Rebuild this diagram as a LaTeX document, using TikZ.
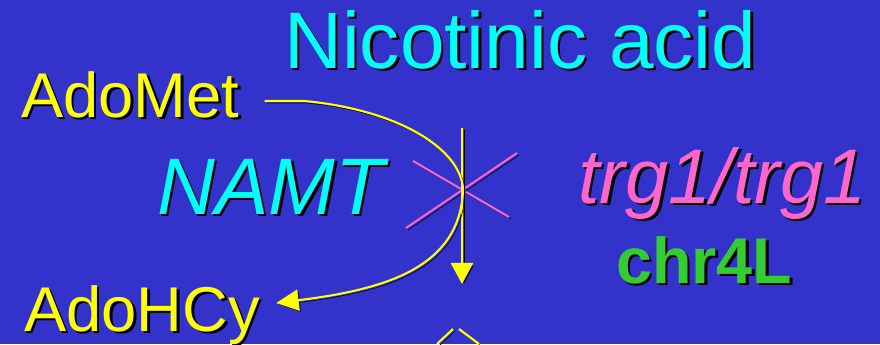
\documentclass[tikz,border=0pt]{standalone}
\usepackage{fontspec}
\setmainfont{Liberation Sans}
\usetikzlibrary{arrows.meta, calc}

\definecolor{slideblue}{HTML}{3333CC}
\definecolor{nameyellow}{HTML}{FFFF00}
\definecolor{namecyan}{HTML}{00FFFF}
\definecolor{genepink}{HTML}{FF66CC}
\definecolor{chrgreen}{HTML}{33CC33}

\begin{document}
\begin{tikzpicture}[x=0.025cm, y=-0.025cm,
  lbl/.style={anchor=base west, inner sep=0pt},
  sh/.style={text=black},
  big/.style={lbl, font=\fontsize{57}{60}\selectfont},
  mid/.style={lbl, font=\fontsize{55}{58}\selectfont\itshape},
  small/.style={lbl, font=\fontsize{45}{48}\selectfont},
  shd/.style={preaction={draw=black, transform canvas={shift={(2,2)}}}},
  yline/.style={shd, draw=nameyellow, line width=1.5pt},
  pline/.style={shd, draw=genepink, line width=1.4pt},
  varr/.style={yline, line width=2.1pt, -{Triangle[length=15pt, width=15.6pt]}},
  carr/.style={yline, -{Triangle[length=16pt, width=15pt]}}
]
\useasboundingbox (0,0) rectangle (880,344);
\fill[slideblue] (0,0) rectangle (880,344);

%% texts (black copy first, as shadow)
\node[big, sh]                  (titlesh) at (286.5,70.5) {Nicotinic acid};
\node[big, text=namecyan]       (title)   at (284,68)     {Nicotinic acid};
\node[small, sh]                (metsh)   at (23.5,119.5) {AdoMet};
\node[small, text=nameyellow]   (met)     at (21,117)     {AdoMet};
\node[small, sh]                (hcysh)   at (26.5,333.5) {AdoHCy};
\node[small, text=nameyellow]   (hcy)     at (24,331)     {AdoHCy};
\node[mid, sh, font=\fontsize{57}{60}\selectfont\itshape] (namtsh) at (159.5,216.5) {NAMT};
\node[mid, text=namecyan, font=\fontsize{57}{60}\selectfont\itshape] (namt) at (157,214) {NAMT};
\node[mid, sh]                  (trgsh)   at (580.5,205.5) {trg1/trg1};
\node[mid, text=genepink]       (trg)     at (578,203)    {trg1/trg1};
\node[small, sh, font=\fontsize{46}{48}\selectfont\bfseries] (chrsh) at (618.5,285.5) {chr4L};
\node[small, text=chrgreen, font=\fontsize{46}{48}\selectfont\bfseries] (chr) at (616,283) {chr4L};

%% blocked step
\coordinate (ctr)  at (463,190);
\coordinate (vtop) at (462,128);
\coordinate (vtip) at (462,284);
\draw[pline] (413,161) -- (509,217);
\draw[pline] (406,228) -- (517,153);
\draw[varr] (vtop) -- (vtip);

%% methyl transfer
\draw[carr] ($(met.base east)+(25,-16)$) -- ++(40,0)
  .. controls (400,110) and (462,150) .. (ctr)
  .. controls (460,270) and (380,290) .. ($(hcy.base east)+(16,-28)$);

%% next step, cut off
\draw[yline] (453,329) -- (437,344);
\draw[yline] (459,329) -- (479,344);

\end{tikzpicture}
\end{document}
